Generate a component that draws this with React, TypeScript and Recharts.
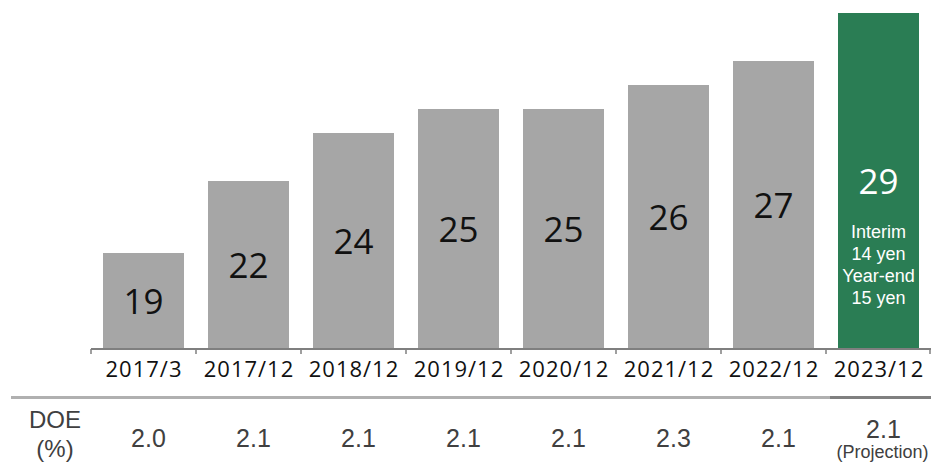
import { BarChart, Bar, XAxis, YAxis, Cell, LabelList } from "recharts";

const periods = ["2017/3", "2017/12", "2018/12", "2019/12", "2020/12", "2021/12", "2022/12", "2023/12"];
const dividends = [19, 22, 24, 25, 25, 26, 27, 29];
const doeValues = ["2.0", "2.1", "2.1", "2.1", "2.1", "2.3", "2.1", "2.1"];
const projectionNotes = ["Interim", "14 yen", "Year-end", "15 yen"];

const GRAY = "#A6A6A6";
const GREEN = "#2A7D54";
const AXIS = "#7F7F7F";
const BAND = 105; // (931 - 91) / 8 categories
const LAST = periods.length - 1;

const data = periods.map((period, i) => ({
  period,
  dividend: dividends[i],
  doe: doeValues[i],
}));

// category tick: label plus boundary tick marks
const PeriodTick = (props: any) => {
  const { x, y, payload, index } = props;
  return (
    <g>
      <line x1={x - BAND / 2} x2={x - BAND / 2} y1={y} y2={y + 5} stroke={AXIS} strokeWidth={1.5} />
      {index === LAST && (
        <line x1={x + BAND / 2 - 1} x2={x + BAND / 2 - 1} y1={y} y2={y + 5} stroke={AXIS} strokeWidth={1.5} />
      )}
      <text
        x={x + 0.5}
        y={y + 28}
        textAnchor="middle"
        fontFamily="'Open Sans', sans-serif"
        fontSize={22}
        letterSpacing={1}
        fill="#111"
      >
        {payload.value}
      </text>
    </g>
  );
};

// DOE row tick
const DoeTick = (props: any) => {
  const { x, y, index } = props;
  const val = doeValues[index];
  const font = "'Liberation Sans', Arial, sans-serif";
  if (index === LAST) {
    return (
      <g>
        <text x={x + 5} y={y + 41} textAnchor="middle" fontFamily={font} fontSize={25} fill="#404040">
          {val}
        </text>
        <text x={x + 4} y={y + 61} textAnchor="middle" fontFamily={font} fontSize={18} fill="#404040">
          (Projection)
        </text>
      </g>
    );
  }
  return (
    <text x={x + 5} y={y + 50} textAnchor="middle" fontFamily={font} fontSize={25} fill="#404040">
      {val}
    </text>
  );
};

const ValueLabel = (props: any) => {
  const { x, y, width, height, value, index } = props;
  const cx = x + width / 2;
  const cy = y + height / 2;
  if (index === LAST) {
    return (
      <g>
        <text x={cx} y={cy + 12.5} textAnchor="middle" fontFamily="'Open Sans', sans-serif" fontSize={35} fill="#fff">
          {value}
        </text>
        {projectionNotes.map((t, i) => (
          <text
            key={t}
            x={cx}
            y={cy + 57 + i * 22}
            textAnchor="middle"
            fontFamily="'Liberation Sans', Arial, sans-serif"
            fontSize={18}
            fill="#fff"
          >
            {t}
          </text>
        ))}
      </g>
    );
  }
  return (
    <text x={cx} y={cy + 12.5} textAnchor="middle" fontFamily="'Open Sans', sans-serif" fontSize={35} fill="#111">
      {value}
    </text>
  );
};

export default function App() {
  return (
    <div style={{ position: "absolute", left: 0, top: 0, width: 931, height: 475, background: "#fff" }}>
      <BarChart
        width={931}
        height={475}
        data={data}
        margin={{ top: 13, right: 0, left: 91, bottom: 0 }}
        barCategoryGap={12}
      >
        <YAxis hide domain={[15, 29]} allowDataOverflow />
        <XAxis
          dataKey="period"
          height={48}
          axisLine={{ stroke: AXIS, strokeWidth: 2 }}
          tickLine={false}
          tickSize={0}
          tickMargin={0}
          interval={0}
          tick={<PeriodTick />}
        />
        <XAxis
          xAxisId="doe"
          dataKey="period"
          height={78}
          axisLine={false}
          tickLine={false}
          tickSize={0}
          tickMargin={0}
          interval={0}
          tick={<DoeTick />}
        />
        <Bar dataKey="dividend" isAnimationActive={false}>
          {data.map((d, i) => (
            <Cell key={d.period} fill={i === LAST ? GREEN : GRAY} />
          ))}
          <LabelList dataKey="dividend" content={<ValueLabel />} />
        </Bar>
      </BarChart>
      {/* DOE row divider */}
      <div style={{ position: "absolute", left: 11, top: 396, width: 819, height: 3, background: "#B0B0B0" }} />
      <div style={{ position: "absolute", left: 830, top: 396, width: 101, height: 3, background: "#808080" }} />
      <div
        style={{
          position: "absolute",
          left: 15,
          top: 405,
          width: 80,
          textAlign: "center",
          fontFamily: "'Liberation Sans', Arial, sans-serif",
          fontSize: 24,
          lineHeight: "29px",
          color: "#404040",
        }}
      >
        DOE
        <br />
        (%)
      </div>
    </div>
  );
}
